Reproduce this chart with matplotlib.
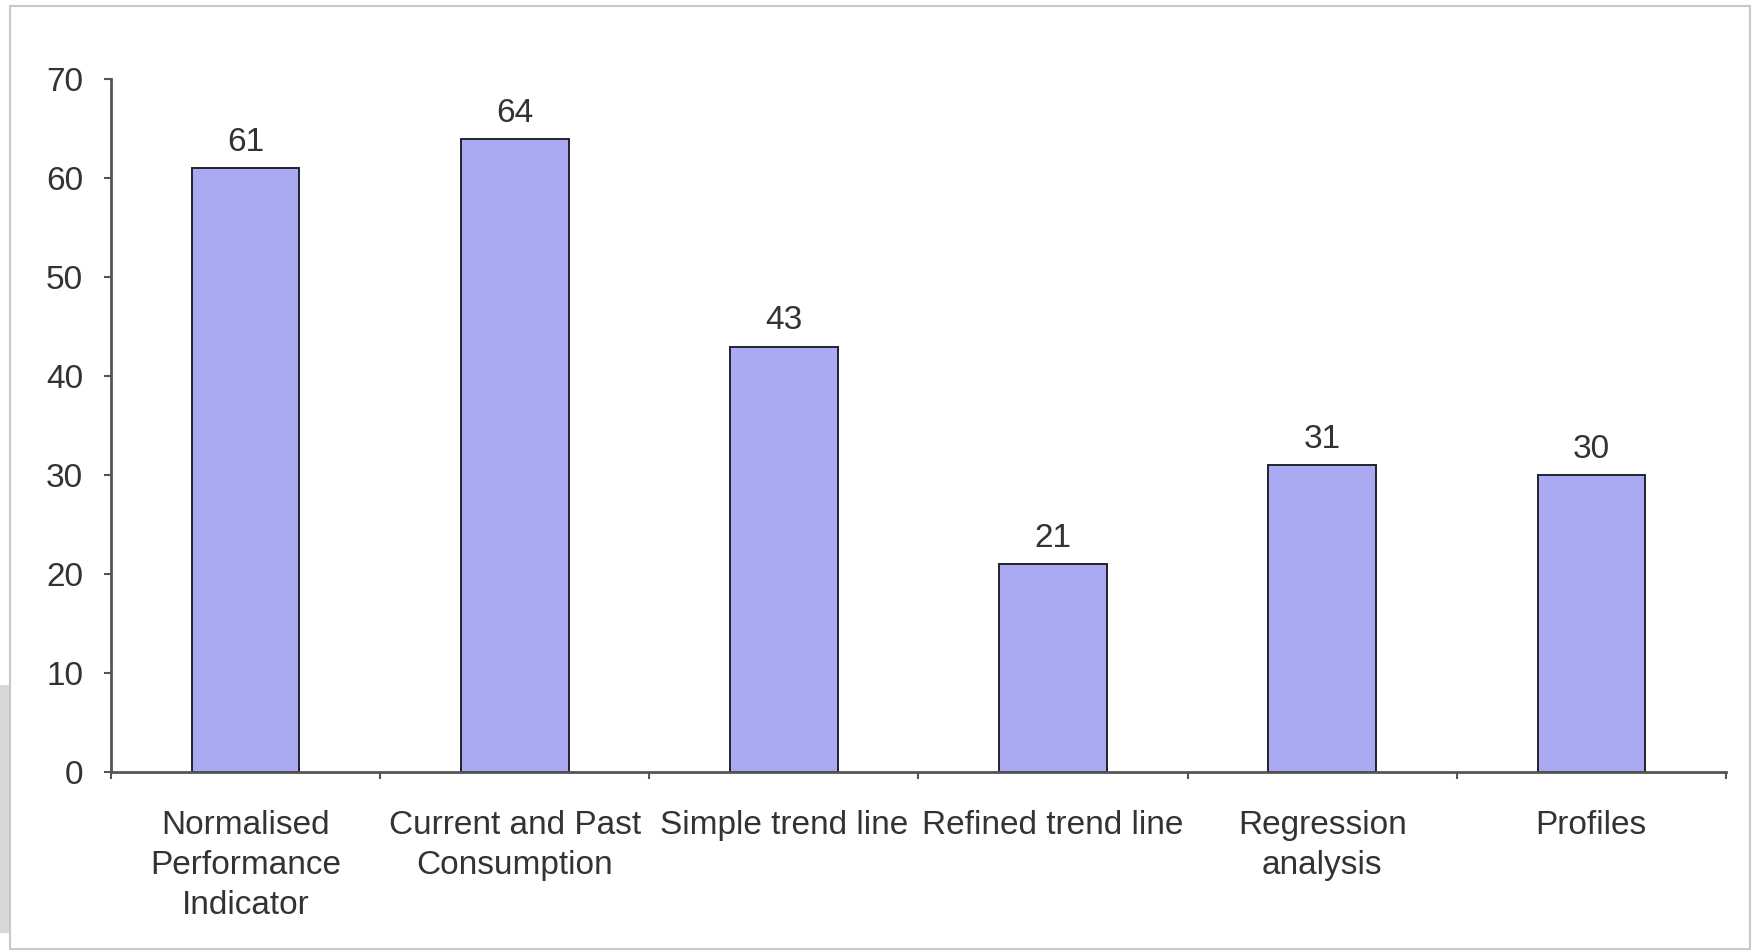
import matplotlib.pyplot as plt
from matplotlib.patches import Rectangle
import numpy as np

categories = ['Normalised\nPerformance\nIndicator', 'Current and Past\nConsumption',
              'Simple trend line', 'Refined trend line', 'Regression\nanalysis', 'Profiles']
values = [61, 64, 43, 21, 31, 30]
yticks = [0, 10, 20, 30, 40, 50, 60, 70]

plt.rcParams['font.family'] = ['Liberation Sans', 'DejaVu Sans']
text_col = '#333333'
axis_col = '#555555'
fs = 24

fig = plt.figure(figsize=(17.54, 9.52), dpi=100)
ax = fig.add_axes([0.0633, 0.189, 0.9207, 0.7276])

x = np.arange(len(values))
ax.bar(x, values, width=0.4, color='#aaaaf2', edgecolor='#22222e', linewidth=1.4)
for xi, v in zip(x, values):
    ax.text(xi, v + 2.6, str(v), ha='center', va='center', fontsize=fs, color=text_col)

ax.set_xlim(-0.5, len(values) - 0.5)
ax.set_ylim(0, 70)
ax.set_yticks(yticks)
ax.tick_params(axis='y', labelsize=fs, colors=axis_col, labelcolor=text_col,
               length=5, width=1.5, pad=15, direction='out')

# category labels between boundary ticks
ax.set_xticks(np.arange(len(values) + 1) - 0.5)
ax.set_xticklabels([])
ax.tick_params(axis='x', length=5, width=1.5, colors=axis_col, direction='out')
ax.set_xticks(x, minor=True)
ax.set_xticklabels(categories, minor=True, fontsize=fs, color=text_col, linespacing=1.38)
ax.tick_params(axis='x', which='minor', length=0, pad=27)

for s in ['top', 'right']:
    ax.spines[s].set_visible(False)
for s in ['left', 'bottom']:
    ax.spines[s].set_color(axis_col)
    ax.spines[s].set_linewidth(2)

# outer frame and shadow
fig.patches.append(Rectangle((0, 0.02), 0.0057, 0.26, transform=fig.transFigure,
                             facecolor='#d8d8d8', edgecolor='none', zorder=0))
fig.patches.append(Rectangle((0.0057, 0.003), 0.992, 0.991, transform=fig.transFigure,
                             facecolor='none', edgecolor='#c8c8c8', linewidth=1.5, zorder=1))

fig.savefig('out.png', dpi=100)
